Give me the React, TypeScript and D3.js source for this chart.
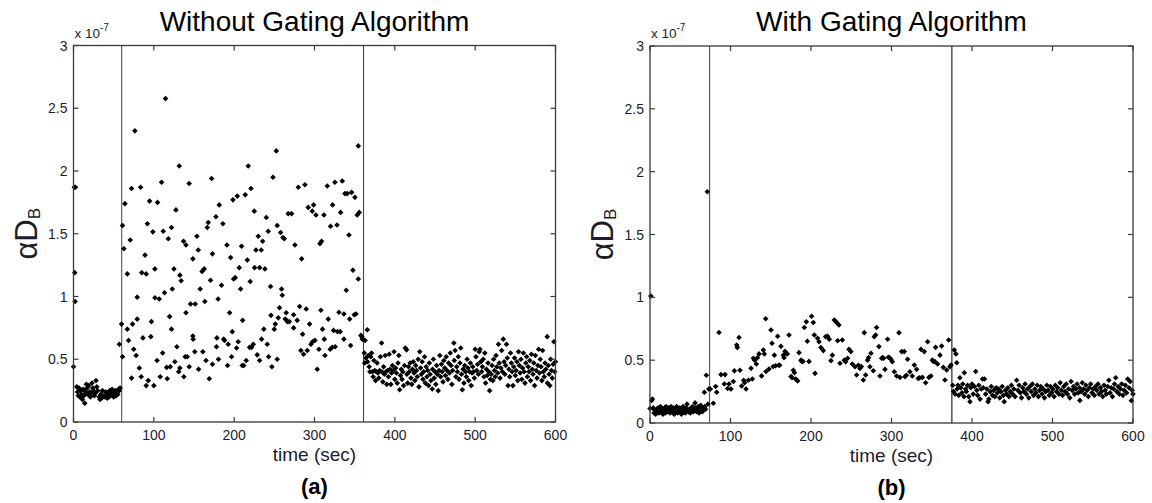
import React from "react";
import * as d3 from "d3";

// ---------------- data (values in units of 1e-7) ----------------
const xTickValues = [0, 100, 200, 300, 400, 500, 600];
const yTickValues = [0, 0.5, 1, 1.5, 2, 2.5, 3];
const yTickLabels = ["0", "0.5", "1", "1.5", "2", "2.5", "3"];

const titleA = "Without Gating Algorithm";
const titleB = "With Gating Algorithm";
const subA = "(a)";
const subB = "(b)";
const dividersA = [60, 361];
const dividersB = [74, 375];

const aBaseline: [number, number][] = [
  [0, 0.44], [1, 1.87], [2.5, 1.87], [1.5, 1.19], [2, 0.96], [4, 0.28], [5, 0.24], [6, 0.21], [7, 0.27], [8, 0.2],
  [9, 0.25], [10, 0.22], [11, 0.18], [12, 0.26], [13, 0.21], [14, 0.15], [15, 0.24], [16, 0.3], [17, 0.27], [18, 0.22],
  [19, 0.29], [20, 0.24], [21, 0.2], [22, 0.23], [23, 0.31], [24, 0.27], [25, 0.25], [26, 0.21], [27, 0.23], [28, 0.33],
  [29, 0.28], [30, 0.25], [32, 0.2], [33, 0.18], [34, 0.22], [35, 0.19], [36, 0.25], [38, 0.21], [39, 0.2], [40, 0.24],
  [41, 0.22], [42, 0.19], [43, 0.23], [44, 0.2], [45, 0.25], [46, 0.21], [47, 0.24], [48, 0.26], [49, 0.22], [50, 0.2],
  [51, 0.23], [52, 0.25], [53, 0.21], [54, 0.24], [55, 0.22], [56, 0.26], [57, 0.25], [58, 0.27], [57, 0.62],
];

const aMiddle: [number, number][] = [
  [59.8, 0.78], [61, 0.52], [61, 1.566], [62.7, 1.38], [64, 1.74], [67, 1.18], [67, 0.74], [68.5, 0.65], [70.6, 1.45],
  [72.3, 1.86], [72.3, 0.35], [73.5, 0.78], [75, 0.58], [76.4, 2.32], [78, 0.53], [79.3, 0.995], [79.3, 0.82], [82, 0.43],
  [83.5, 1.87], [84.3, 0.36], [85, 1.19], [86.4, 0.67], [89, 1.33], [90.5, 1.18], [90.5, 0.29], [92, 1.58], [93, 0.33],
  [94.7, 1.76], [96.3, 0.68], [97, 0.8], [98.8, 1.515], [100, 0.29], [101.3, 1.22], [101.3, 0.99], [104, 0.49],
  [104.6, 1.75], [106.7, 0.98], [108, 0.36], [109.6, 1.91], [111, 0.55], [111.7, 1.52], [113.3, 1.03], [114.6, 2.577],
  [116, 0.435], [116.7, 0.345], [118, 1.46], [119.6, 0.84], [120.4, 0.44], [122, 1.55], [122, 0.74], [123, 1.06],
  [125, 1.22], [126.2, 0.48], [127.5, 1.69], [128.7, 0.6], [131, 0.4], [131.6, 2.04], [132.4, 1.17], [132.4, 0.43],
  [134, 1.125], [137.4, 0.36], [137, 1.44], [140, 1.41], [140, 0.87], [139, 0.52], [141.6, 0.52], [144, 1.9], [144, 0.44],
  [145.7, 0.94], [148.6, 1.3], [148.6, 0.685], [149, 0.66], [151.5, 0.94], [151, 0.56], [153.6, 1.48], [155.3, 1.37],
  [155.7, 0.42], [157.7, 1.06], [161, 0.56], [160, 1.2], [162.7, 1.22], [163.5, 0.96], [165, 0.49], [166.5, 1.55],
  [167.7, 1.59], [169, 0.345], [170.6, 1.13], [172, 1.94], [173, 1.34], [173, 0.46], [177.3, 1.635], [178.5, 0.67],
  [178, 0.6], [180, 0.98], [181.4, 1.73], [180.5, 0.5], [184.3, 1.09], [186, 1.58], [187, 0.66], [188, 0.65],
  [191, 1.41], [191.8, 0.45], [192.6, 0.62], [195.6, 1.31], [194.3, 0.87], [196.8, 0.52], [197.6, 0.72], [198.5, 1.77],
  [199.3, 1.14], [201.4, 1.15], [203, 0.59], [203.9, 1.8], [205, 0.64], [206.3, 1.23], [208, 1.06], [209.2, 1.4],
  [210.5, 0.81], [210, 0.45], [212, 0.45], [213.8, 1.81], [215, 0.49], [216.3, 1.29], [217.5, 2.04], [219.2, 0.595],
  [220.9, 1.86], [220, 1.12], [221.7, 0.595], [223.8, 0.62], [225, 1.68], [225.4, 1.23], [227.1, 1.37], [228.7, 0.535],
  [230, 1.48], [231.7, 0.49], [231.7, 1.23], [233.7, 1.37], [234.1, 0.66], [235.4, 1.44], [237, 0.74], [238.3, 1.22],
  [240, 1.63], [241.2, 0.62], [242.4, 1.52], [242.9, 0.52], [245.3, 1.08], [245.8, 0.85], [247, 0.44], [248.3, 1.95],
  [249.9, 0.74], [251.2, 0.78], [252.4, 2.16], [253.6, 1.566], [253.6, 0.5], [254.9, 0.83], [256.5, 0.91], [257.8, 1.51],
  [259, 1.06], [259.9, 1.01], [260.7, 1.47], [262.4, 1.46], [263.6, 0.82], [264.8, 0.87], [266.1, 0.8], [267.3, 1.66],
  [268.6, 0.8], [271.5, 1.66], [274, 0.855], [274, 0.75], [275.6, 1.41], [278.5, 0.81], [279.8, 1.87], [281.5, 0.92],
  [284, 1.3], [285.2, 0.7], [283, 0.57], [286.4, 0.54], [288.1, 1.89], [289.7, 0.9], [291, 0.57], [292.2, 1.71],
  [293.9, 0.78], [295.6, 0.62], [297.2, 1.68], [297.6, 0.64], [298.9, 1.73], [301.8, 1.65], [300.5, 0.65], [303.4, 0.42],
  [305.5, 0.58], [306.8, 1.42], [308, 0.89], [308.8, 1.44], [310, 0.74], [311.7, 1.65], [312.2, 0.66], [313, 0.53],
  [315.9, 1.88], [317.1, 0.82], [319.6, 0.58], [320, 1.56], [322.5, 1.73], [322, 0.595], [323.8, 0.73], [325.4, 1.91],
  [325.8, 0.6], [328, 1.57], [328.7, 0.72], [330.4, 0.875], [332.5, 1.67], [332, 0.72], [334.6, 1.92], [336.6, 0.86],
  [336.6, 0.66], [337.9, 1.82], [339.5, 1.05], [340.8, 1.82], [342.9, 1.49], [343.7, 0.82], [345, 0.61], [346.2, 1.83],
  [347.8, 1.21], [349.5, 0.855], [350.3, 1.79], [351.6, 0.86], [353.2, 1.65], [354.5, 1.14], [354.5, 2.2], [355.7, 1.67],
  [357.8, 0.69], [359.5, 0.66], [359, 0.68],
];

const aAfter: [number, number][] = [
  [362, 0.55], [362.5, 0.47], [363, 0.65], [364, 0.51], [365.7, 0.735], [366, 0.48], [367, 0.53], [368, 0.44], [369, 0.4],
  [370, 0.52], [371, 0.55], [372, 0.4], [373, 0.36], [374, 0.49], [375, 0.41], [376, 0.33], [377, 0.4], [378, 0.47],
  [379, 0.39], [380, 0.35], [381, 0.41], [382, 0.52], [383.5, 0.63], [384, 0.4], [385, 0.32], [386, 0.44], [387, 0.38],
  [388, 0.53], [389, 0.4], [390, 0.3], [391, 0.41], [392, 0.36], [393, 0.54], [394, 0.42], [395, 0.3], [396, 0.39],
  [397, 0.45], [398, 0.41], [399, 0.56], [400, 0.34], [401, 0.43], [402, 0.39], [403, 0.31], [404, 0.47], [405, 0.53],
  [406, 0.257], [407, 0.37], [408, 0.42], [409, 0.34], [410, 0.4], [411, 0.29], [412, 0.45], [413, 0.59], [414.6, 0.575],
  [415, 0.38], [416, 0.31], [417, 0.44], [418, 0.4], [419, 0.47], [420, 0.35], [421, 0.3], [422, 0.42], [423, 0.48],
  [424, 0.39], [425, 0.33], [426, 0.45], [427, 0.41], [428, 0.36], [429, 0.5], [430, 0.28], [431, 0.56], [432, 0.43],
  [433, 0.38], [434, 0.48], [435, 0.34], [436, 0.4], [437, 0.52], [438, 0.31], [439, 0.44], [440, 0.36], [441, 0.41],
  [442, 0.29], [443, 0.47], [444, 0.38], [445, 0.33], [446.6, 0.263], [447, 0.42], [448, 0.5], [449, 0.35], [450, 0.4],
  [451, 0.3], [452, 0.45], [453, 0.38], [454, 0.25], [455, 0.41], [456, 0.53], [457, 0.36], [458, 0.46], [459, 0.4],
  [460, 0.32], [461, 0.49], [462, 0.43], [463, 0.37], [464, 0.52], [465, 0.41], [466, 0.34], [467, 0.47], [468, 0.39],
  [469, 0.55], [470, 0.45], [471, 0.3], [472, 0.41], [473.5, 0.63], [474, 0.49], [475, 0.57], [476, 0.36], [477, 0.44],
  [478, 0.4], [479, 0.52], [480, 0.34], [481, 0.47], [482, 0.59], [483, 0.38], [484, 0.257], [485, 0.42], [486, 0.31],
  [487, 0.45], [488, 0.4], [489, 0.36], [490, 0.5], [491, 0.43], [492, 0.33], [493, 0.4], [494, 0.47], [495, 0.29],
  [496, 0.39], [497, 0.44], [498, 0.4], [499, 0.35], [500, 0.58], [501, 0.52], [502, 0.41], [503, 0.46], [504, 0.38],
  [505, 0.56], [506, 0.58], [507, 0.48], [508, 0.4], [509, 0.44], [510, 0.5], [511, 0.36], [512, 0.55], [513, 0.31],
  [514, 0.42], [515, 0.37], [516, 0.47], [517, 0.4], [518, 0.25], [519, 0.34], [520, 0.38], [521, 0.45], [522, 0.33],
  [523, 0.5], [524, 0.41], [525, 0.36], [526, 0.53], [527, 0.44], [528, 0.39], [529, 0.62], [530, 0.47], [531, 0.35],
  [532, 0.43], [533, 0.57], [534, 0.4], [535, 0.66], [536, 0.48], [537, 0.38], [538, 0.45], [539, 0.62], [540, 0.51],
  [541, 0.29], [542, 0.42], [543, 0.36], [544, 0.55], [545, 0.47], [546, 0.4], [547, 0.29], [548, 0.44], [549, 0.51],
  [550, 0.37], [551, 0.41], [552, 0.48], [553, 0.33], [554, 0.56], [555, 0.45], [556, 0.39], [557, 0.5], [558, 0.34],
  [559, 0.43], [560, 0.55], [561, 0.4], [562, 0.31], [563, 0.47], [564, 0.52], [565, 0.36], [566, 0.44], [567, 0.4],
  [568, 0.49], [569, 0.33], [570, 0.54], [571, 0.42], [572, 0.38], [573, 0.47], [574, 0.29], [575, 0.53], [576, 0.41],
  [577, 0.35], [578, 0.45], [579, 0.58], [580, 0.39], [581, 0.5], [582, 0.44], [583, 0.33], [584, 0.57], [585, 0.4],
  [586, 0.36], [587, 0.47], [588, 0.42], [589.7, 0.68], [590, 0.31], [591, 0.45], [592, 0.38], [593, 0.29], [594, 0.5],
  [595, 0.41], [596, 0.35], [597, 0.46], [598, 0.64], [599, 0.4], [600, 0.48],
];

const bBaseline: [number, number][] = [
  [0, 0.115], [1, 1.01], [2, 0.18], [3, 0.19], [4, 0.12], [5, 0.08], [6, 0.1], [7, 0.07], [8, 0.11], [9, 0.09],
  [10, 0.12], [11, 0.08], [12, 0.1], [13, 0.13], [14, 0.09], [15, 0.11], [16, 0.07], [17, 0.1], [18, 0.12], [19, 0.08],
  [20, 0.13], [21, 0.1], [22, 0.09], [23, 0.12], [24, 0.11], [25, 0.08], [26, 0.13], [27, 0.1], [28, 0.09], [29, 0.12],
  [30, 0.07], [31, 0.11], [32, 0.1], [33, 0.13], [34, 0.08], [35, 0.11], [36, 0.09], [37, 0.12], [38, 0.1], [39, 0.07],
  [40, 0.11], [41, 0.13], [42, 0.09], [43, 0.1], [44, 0.08], [45, 0.12], [46, 0.15], [47, 0.1], [48, 0.09], [49, 0.11],
  [50, 0.08], [51, 0.12], [52, 0.1], [53, 0.13], [54, 0.09], [55, 0.11], [56, 0.16], [57, 0.12], [58, 0.09], [59, 0.1],
  [60, 0.13], [61, 0.08], [62, 0.11], [63, 0.14], [64, 0.1], [65, 0.09], [66, 0.12], [67.5, 0.245], [68, 0.13],
  [69, 0.11], [70, 0.38], [71.2, 1.84], [72, 0.15], [73, 0.27],
];

const bMiddle: [number, number][] = [
  [75, 0.27], [78.7, 0.157], [81.6, 0.29], [82.8, 0.245], [85.7, 0.72], [88.2, 0.385], [92.3, 0.31], [93.2, 0.385],
  [96.5, 0.275], [98.1, 0.31], [100.5, 0.27], [103.5, 0.33], [104.8, 0.415], [107.7, 0.62], [108.5, 0.6], [110.6, 0.68],
  [111.8, 0.42], [113.9, 0.295], [116.4, 0.34], [117.5, 0.32], [119.3, 0.27], [122.2, 0.34], [125.5, 0.435], [127.1, 0.35],
  [128.4, 0.515], [130, 0.5], [132.1, 0.47], [133.5, 0.52], [135.4, 0.55], [138.7, 0.375], [140.8, 0.58], [142, 0.55],
  [143.7, 0.83], [144.1, 0.41], [147.8, 0.43], [150.3, 0.74], [151.6, 0.635], [153, 0.45], [154.5, 0.54], [156.1, 0.455],
  [158.6, 0.69], [160, 0.46], [161.1, 0.46], [162.7, 0.61], [165.6, 0.54], [166.5, 0.52], [167.7, 0.57], [169.4, 0.555],
  [170.5, 0.55], [172.7, 0.7], [175.2, 0.37], [176.5, 0.36], [178.1, 0.42], [179.5, 0.4], [181, 0.35], [183.4, 0.335],
  [185.1, 0.56], [187.6, 0.5], [188.5, 0.49], [190.1, 0.49], [191.7, 0.76], [194.2, 0.805], [195.5, 0.65], [197.5, 0.49],
  [200.8, 0.85], [202.9, 0.8], [204.1, 0.7], [205, 0.395], [208.2, 0.674], [209.9, 0.647], [212.4, 0.6], [215.3, 0.576],
  [218.2, 0.687], [220.7, 0.69], [222.7, 0.666], [224.8, 0.496], [226.5, 0.54], [228.9, 0.82], [230.5, 0.81],
  [231.8, 0.8], [234.7, 0.78], [233.1, 0.655], [236, 0.475], [238.9, 0.66], [241.4, 0.5], [243, 0.488], [245.5, 0.515],
  [247.2, 0.586], [249.6, 0.568], [251.3, 0.47], [254.6, 0.448], [256.7, 0.382], [258.8, 0.46], [260.8, 0.435],
  [262.5, 0.45], [265, 0.342], [266.2, 0.719], [267.9, 0.382], [270.3, 0.5], [271.5, 0.52], [273.2, 0.448],
  [274.5, 0.555], [277.4, 0.416], [278.6, 0.687], [280.3, 0.7], [281.5, 0.76], [284.4, 0.608], [285.7, 0.374],
  [287.7, 0.515], [289, 0.52], [290.2, 0.515], [291.9, 0.427], [295.2, 0.666], [296, 0.523], [297.5, 0.52],
  [299.3, 0.507], [301, 0.488], [303.5, 0.408], [306.4, 0.374], [309.3, 0.719], [310.5, 0.363], [312.6, 0.568],
  [315.9, 0.568], [316.7, 0.369], [318.5, 0.38], [320, 0.507], [322.9, 0.408], [325.8, 0.374], [328.3, 0.462],
  [331.2, 0.427], [333.3, 0.355], [335, 0.36], [336.6, 0.586], [338.3, 0.363], [340.7, 0.568], [342.4, 0.32],
  [344.9, 0.647], [346.5, 0.363], [349, 0.374], [350.7, 0.5], [352, 0.49], [354, 0.488], [354.8, 0.602], [357.3, 0.47],
  [360.2, 0.54], [362.3, 0.613], [364.3, 0.443], [366.4, 0.342], [368.5, 0.422], [371, 0.66], [372.6, 0.448],
  [373.9, 0.462],
];

const bAfter: [number, number][] = [
  [376, 0.3], [377, 0.25], [378, 0.58], [379, 0.23], [380, 0.55], [381, 0.48], [381.5, 0.27], [382.5, 0.3], [383.5, 0.22],
  [385, 0.36], [386, 0.28], [387.5, 0.24], [388.5, 0.31], [390, 0.21], [390.5, 0.4], [392, 0.27], [393, 0.25], [394.5, 0.3],
  [396, 0.21], [397.5, 0.17], [398.5, 0.28], [400, 0.31], [401.5, 0.23], [403, 0.29], [404.6, 0.41], [406, 0.26],
  [407, 0.22], [408.5, 0.3], [410, 0.19], [411.5, 0.27], [413, 0.35], [414, 0.28], [415.5, 0.35], [417, 0.23],
  [418.5, 0.27], [420, 0.17], [421, 0.19], [422.5, 0.25], [424, 0.29], [425.5, 0.22], [427, 0.26], [428.5, 0.21],
  [430, 0.28], [431.5, 0.24], [433, 0.27], [434.5, 0.2], [436, 0.25], [437.5, 0.29], [439, 0.22], [440, 0.17],
  [441.5, 0.26], [443, 0.23], [444.5, 0.28], [446, 0.21], [447.5, 0.25], [449, 0.3], [450.5, 0.23], [452, 0.27],
  [453.5, 0.21], [455.5, 0.34], [457, 0.26], [458.5, 0.3], [460, 0.24], [461.5, 0.2], [463, 0.28], [464.5, 0.25],
  [466, 0.31], [467.5, 0.23], [469, 0.27], [470.5, 0.2], [472, 0.29], [473.5, 0.25], [475, 0.31], [476.5, 0.22],
  [478, 0.27], [479.5, 0.24], [481, 0.3], [482.5, 0.21], [484, 0.26], [485.5, 0.29], [487, 0.23], [488.5, 0.27],
  [490, 0.2], [491.5, 0.25], [493, 0.3], [494.5, 0.26], [496, 0.22], [497.5, 0.29], [499, 0.24], [500.5, 0.27],
  [502, 0.21], [503.5, 0.3], [505, 0.25], [506.5, 0.28], [508, 0.23], [509.5, 0.32], [511, 0.26], [512.5, 0.22],
  [514, 0.29], [515.5, 0.25], [517, 0.31], [518.5, 0.23], [520, 0.27], [521.5, 0.2], [523, 0.33], [524.5, 0.26],
  [526, 0.29], [527.5, 0.23], [529, 0.27], [530.5, 0.31], [532, 0.24], [533.5, 0.28], [534, 0.18], [535.5, 0.25],
  [537, 0.32], [538.5, 0.27], [540, 0.23], [541.5, 0.3], [543, 0.26], [544.5, 0.21], [546, 0.28], [547.5, 0.31],
  [549, 0.24], [550.5, 0.27], [552, 0.22], [553.5, 0.29], [555, 0.26], [556.5, 0.31], [558, 0.23], [559.5, 0.28],
  [561, 0.25], [562.5, 0.21], [564, 0.3], [565.5, 0.26], [567, 0.23], [568.5, 0.29], [570, 0.34], [571.5, 0.24],
  [573, 0.28], [574.5, 0.21], [576, 0.27], [577, 0.31], [578.5, 0.36], [580, 0.25], [581.5, 0.29], [583, 0.23],
  [584.5, 0.27], [586, 0.31], [587.5, 0.22], [589, 0.26], [590.5, 0.3], [592, 0.24], [593.4, 0.35], [595, 0.28],
  [596.5, 0.33], [598, 0.178], [599, 0.26], [600, 0.23],
];

// ---------------- rendering ----------------
const FONT = "'Liberation Sans', Arial, Helvetica, sans-serif";
const AXIS = "#3a3a3a";
const TEXT = "#1c1c2c";

type Geo = { x0: number; x1: number; y0: number; y1: number };

const marker = "M0,-2.8L2.8,0L0,2.8L-2.8,0Z";

function Panel(props: {
  geo: Geo;
  title: string;
  sub: string;
  dividers: number[];
  points: [number, number][];
  dividerColors: string[];
}) {
  const { geo, title, sub, dividers, points, dividerColors } = props;
  const x = d3.scaleLinear().domain([0, 600]).range([geo.x0, geo.x1]);
  const y = d3.scaleLinear().domain([0, 3]).range([geo.y0, geo.y1]);
  const cx = (geo.x0 + geo.x1) / 2;
  const cy = (geo.y0 + geo.y1) / 2;
  const tl = 5;
  return (
    <g>
      <text x={cx} y={31} textAnchor="middle" fontFamily={FONT} fontSize={28} fill="#000">
        {title}
      </text>
      {dividers.map((d, i) => (
        <line key={"d" + i} x1={x(d)} x2={x(d)} y1={geo.y0} y2={geo.y1} stroke={dividerColors[i]} strokeWidth={1.1} />
      ))}
      {points.map((p, i) => (
        <path key={"p" + i} d={marker} transform={`translate(${x(p[0])},${y(p[1])})`} fill="#000" />
      ))}
      <rect x={geo.x0} y={geo.y1} width={geo.x1 - geo.x0} height={geo.y0 - geo.y1} fill="none" stroke={AXIS} strokeWidth={1.3} />
      {xTickValues.map((t) => (
        <g key={"xt" + t}>
          <line x1={x(t)} x2={x(t)} y1={geo.y0} y2={geo.y0 - tl} stroke={AXIS} strokeWidth={1.2} />
          <line x1={x(t)} x2={x(t)} y1={geo.y1} y2={geo.y1 + tl} stroke={AXIS} strokeWidth={1.2} />
          <text x={x(t)} y={geo.y0 + 18} textAnchor="middle" fontFamily={FONT} fontSize={14} fill={TEXT}>
            {String(t)}
          </text>
        </g>
      ))}
      {yTickValues.map((t, i) => (
        <g key={"yt" + t}>
          <line x1={geo.x0} x2={geo.x0 + tl} y1={y(t)} y2={y(t)} stroke={AXIS} strokeWidth={1.2} />
          <line x1={geo.x1} x2={geo.x1 - tl} y1={y(t)} y2={y(t)} stroke={AXIS} strokeWidth={1.2} />
          <text x={geo.x0 - 6} y={y(t)} dy="0.36em" textAnchor="end" fontFamily={FONT} fontSize={14} fill={TEXT}>
            {yTickLabels[i]}
          </text>
        </g>
      ))}
      <text x={geo.x0 + 1} y={geo.y1 - 8} fontFamily={FONT} fontSize={13.5} fill={TEXT}>
        <tspan>x 10</tspan>
        <tspan fontSize={10} dy={-7}>-7</tspan>
      </text>
      <text
        transform={`translate(${geo.x0 - 37},${cy}) rotate(-90)`}
        textAnchor="middle"
        fontFamily={FONT}
        fontSize={31}
        fill={TEXT}
      >
        <tspan>αD</tspan>
        <tspan fontSize={17} dy={3}>B</tspan>
      </text>
      <text x={cx} y={geo.y0 + 39} textAnchor="middle" fontFamily={FONT} fontSize={19} fill={TEXT}>
        time (sec)
      </text>
      <text x={cx} y={geo.y0 + 72} textAnchor="middle" fontFamily={FONT} fontSize={22} fontWeight="bold" fill="#000">
        {sub}
      </text>
    </g>
  );
}

export default function App() {
  const geoA: Geo = { x0: 73.5, x1: 555.5, y0: 422, y1: 45.5 };
  const geoB: Geo = { x0: 650, x1: 1133, y0: 423, y1: 46 };
  const ptsA = [...aBaseline, ...aMiddle, ...aAfter];
  const ptsB = [...bBaseline, ...bMiddle, ...bAfter];
  return (
    <svg
      width={1152}
      height={503}
      viewBox="0 0 1152 503"
      style={{ position: "absolute", left: 0, top: 0, background: "#fff" }}
    >
      <rect x={0} y={0} width={1152} height={503} fill="#fff" />
      <Panel geo={geoA} title={titleA} sub={subA} dividers={dividersA} points={ptsA} dividerColors={["#555", "#444"]} />
      <Panel geo={geoB} title={titleB} sub={subB} dividers={dividersB} points={ptsB} dividerColors={["#555", "#111"]} />
    </svg>
  );
}
